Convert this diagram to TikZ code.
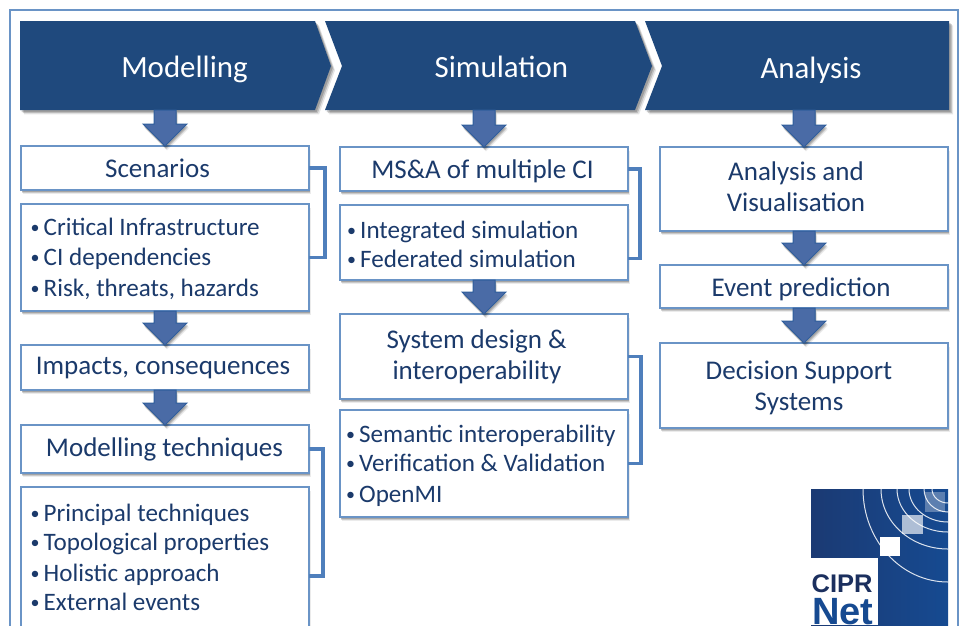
\documentclass[tikz,border=0pt]{standalone}
\usepackage{fontspec}
\setmainfont{Carlito}
\newfontfamily\logofont{Liberation Sans}
\usetikzlibrary{shadows,calc}
\definecolor{navy}{HTML}{1F497D}
\definecolor{ink}{HTML}{1B3A6B}
\definecolor{edge}{HTML}{6A94C6}
\definecolor{brk}{HTML}{4F7FBC}
\definecolor{arrowfill}{HTML}{4A6BA6}
\definecolor{arrowline}{HTML}{2F5E9C}
\definecolor{logodark}{HTML}{1B3A73}
\definecolor{logoblue}{HTML}{164A91}
\definecolor{logotext}{HTML}{1B2F5E}
\tikzset{
  softshadow/.style={
    preaction={draw=none,fill=black,opacity=.08,transform canvas={xshift=2pt,yshift=-4.4pt}},
    preaction={draw=none,fill=black,opacity=.14,transform canvas={xshift=1.4pt,yshift=-3.2pt}},
    preaction={draw=none,fill=black,opacity=.18,transform canvas={xshift=.8pt,yshift=-2pt}}},
  chevronshadow/.style={
    preaction={draw=none,fill=black,opacity=.10,transform canvas={xshift=4pt,yshift=-4.4pt}},
    preaction={draw=none,fill=black,opacity=.16,transform canvas={xshift=2.8pt,yshift=-3.2pt}},
    preaction={draw=none,fill=black,opacity=.18,transform canvas={xshift=1.6pt,yshift=-2pt}}},
  chevron/.style={fill=navy,chevronshadow},
  headtext/.style={text=white,font=\fontsize{30.9}{32}\selectfont,anchor=base,inner sep=0pt},
  box/.style={draw=edge,line width=1.3pt,fill=white,softshadow,minimum width=288pt,anchor=north west,inner sep=0pt,outer sep=0pt},
  boxtext/.style={text=ink,font=\fontsize{27}{31}\selectfont,anchor=base,inner sep=0pt},
  item/.style={text=ink,font=\fontsize{25.1}{28}\selectfont,anchor=base west,inner sep=0pt},
  bracket/.style={draw=brk,line width=3.5pt,line join=miter},
  bigarrow/.style={draw=arrowline,line width=1pt,fill=arrowfill,softshadow,line join=miter},
}
\newcommand{\itemmark}{\makebox[13pt][l]{\fontsize{18}{18}\selectfont\raisebox{1.5pt}{•}}}
\newcommand{\blockarrow}[2]{%
  \draw[bigarrow] ($(#2 |- #1)+(-11,0)$) -- ++(22,0)
    -- ($(#2)+(11,-22)$) -- ++(11,0) -- (#2) -- ($(#2)+(-22,-22)$) -- ++(11,0) -- cycle;}
\newcommand{\bracketline}[4]{%
  \draw[bracket] (#1.east) -- ++(#3,0) |- ([yshift=#4]#2.east);}
\begin{document}
\begin{tikzpicture}[x=1pt,y=-1pt]
\useasboundingbox (0,0) rectangle (961,625);
\fill[white] (0,0) rectangle (961,625);
\clip (0,0) rectangle (961,625);
\draw[edge,line width=1.3pt] (10,660) -- (10,10) -- (958,10) -- (958,660);

% banner
\path[chevron] (645,21) -- (949,21) -- (949,110) -- (645,110) -- (662,66) -- cycle;
\path[chevron] (325,21) -- (635,21) -- (652,66) -- (635,110) -- (325,110) -- (342,66) -- cycle;
\path[chevron] (20,21) -- (315,21) -- (331,66) -- (315,110) -- (20,110) -- cycle;
\node[headtext] (modelling) at (184.5,77) {Modelling};
\node[headtext] (simulation) at (501.5,77) {Simulation};
\node[headtext] (analysis) at (811,78) {Analysis};
\coordinate (modbase) at (165,110);
\coordinate (simbase) at (484,110);
\coordinate (anabase) at (803,110);

% column 1
\node[box,minimum height=44pt] (scen) at (21,146) {};
\node[box,minimum height=107pt] (scenlist) at (21,204) {};
\node[box,minimum height=45pt] (impacts) at (21,345) {};
\node[box,minimum height=48pt] (modtech) at (21,425) {};
\node[box,minimum height=178pt] (modlist) at (21,487) {};
% column 2
\node[box,minimum height=44pt] (msa) at (340,147) {};
\node[box,minimum height=75pt] (msalist) at (340,205) {};
\node[box,minimum height=85pt] (sysd) at (340,314) {};
\node[box,minimum height=107pt] (sysdlist) at (340,410) {};
% column 3
\node[box,minimum height=84pt] (ana) at (660,147) {};
\node[box,minimum height=43pt] (event) at (660,265) {};
\node[box,minimum height=85pt] (dss) at (660,343) {};

% box titles
\node[boxtext] (t1) at (157.5,177) {Scenarios};
\node[boxtext] (t2) at (163,374.5) {Impacts, consequences};
\node[boxtext] (t3) at (164.5,456) {Modelling techniques};
\node[boxtext] (t4) at (482.5,178) {MS\&A of multiple CI};
\node[boxtext] (t5) at (476.5,348.5) {System design \&};
\node[boxtext] (t6) at (477,379) {interoperability};
\node[boxtext] (t7) at (796,180) {Analysis and};
\node[boxtext] (t8) at (796,211) {Visualisation};
\node[boxtext] (t9) at (801,296.3) {Event prediction};
\node[boxtext] (t10) at (799,379.3) {Decision Support};
\node[boxtext] (t11) at (799,410.3) {Systems};

% list texts
\node[item] (i1) at (30.5,235) {\itemmark Critical Infrastructure};
\node[item] (i2) at (30.5,265) {\itemmark CI dependencies};
\node[item] (i3) at (30.5,296) {\itemmark Risk, threats, hazards};
\node[item] (i4) at (30.5,521) {\itemmark Principal techniques};
\node[item] (i5) at (30.5,550) {\itemmark Topological properties};
\node[item] (i6) at (30.5,581) {\itemmark Holistic approach};
\node[item] (i7) at (30.5,610) {\itemmark External events};
\node[item] (i8) at (347,238) {\itemmark Integrated simulation};
\node[item] (i9) at (347,267) {\itemmark Federated simulation};
\node[item] (i10) at (346,442) {\itemmark Semantic interoperability};
\node[item] (i11) at (346,471) {\itemmark Verification \& Validation};
\node[item] (i12) at (346,502) {\itemmark OpenMI};

% brackets
\bracketline{scen}{scenlist}{16}{0pt}
\bracketline{modtech}{modlist}{14}{0pt}
\bracketline{msa}{msalist}{12}{-16pt}
\bracketline{sysd}{sysdlist}{13}{0pt}

% arrows
\blockarrow{modbase}{scen.north}
\blockarrow{scenlist.south}{impacts.north}
\blockarrow{impacts.south}{modtech.north}
\blockarrow{simbase}{msa.north}
\blockarrow{msalist.south}{sysd.north}
\blockarrow{anabase}{ana.north}
\blockarrow{ana.south}{event.north}
\blockarrow{event.south}{dss.north}

% logo
\begin{scope}
  \clip (811,489) rectangle (948,625);
  \shade[left color=logodark,right color=logoblue] (811,489) rectangle (948,625);
  \draw[white,opacity=.85,line width=1pt] \foreach \rx/\ry in {85/93,67/60,51/43,39/33,24/23,16/14} {
    (948,489) ellipse[x radius=\rx,y radius=\ry]};
\end{scope}
\fill[white] (811,558) rectangle (878,625);
\fill[white] (880,537) rectangle (900,556);
\fill[white,opacity=.65] (902,515) rectangle (923,534);
\fill[white,opacity=.3] (925,492) rectangle (945,512);
\node[anchor=base west,inner sep=0pt,text=logotext,font={\logofont\bfseries\fontsize{25.5}{26}\selectfont}] (cipr) at (811.5,592.5) {CIPR};
\node[anchor=base west,inner sep=0pt,text=logoblue,font={\logofont\bfseries\fontsize{38}{38}\selectfont}] (net) at (812,624.5) {Net};
\end{tikzpicture}
\end{document}
